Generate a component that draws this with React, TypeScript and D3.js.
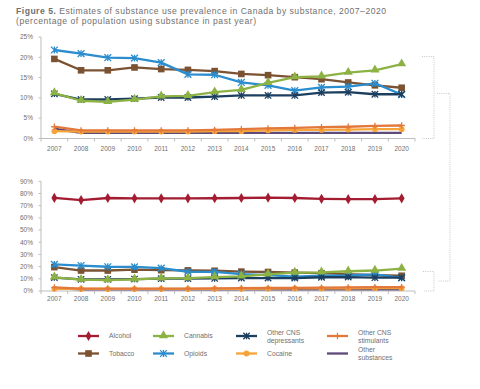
import React from "react";
import * as d3 from "d3";

const years = [2007, 2008, 2009, 2010, 2011, 2012, 2013, 2014, 2015, 2016, 2017, 2018, 2019, 2020];
const alcohol = [76.4, 74.6, 76.3, 76.0, 76.0, 76.0, 76.1, 76.3, 76.6, 76.3, 75.6, 75.3, 75.3, 76.0];
const tobacco = [19.6, 16.8, 16.8, 17.5, 17.1, 16.9, 16.6, 15.9, 15.6, 15.1, 14.6, 13.8, 13.1, 12.5];
const cannabis = [11.2, 9.3, 9.0, 9.6, 10.4, 10.5, 11.4, 12.0, 13.7, 15.1, 15.3, 16.2, 16.8, 18.3];
const opioids = [21.8, 20.9, 19.9, 19.8, 18.7, 15.8, 15.7, 13.8, 13.1, 11.8, 12.6, 12.8, 13.6, 10.8];
const cnsDepressants = [11.0, 9.6, 9.6, 9.8, 10.1, 10.1, 10.3, 10.6, 10.6, 10.6, 11.3, 11.4, 10.9, 10.9];
const cnsStimulants = [2.9, 2.0, 2.0, 2.0, 2.0, 2.0, 2.1, 2.3, 2.5, 2.6, 2.8, 2.9, 3.1, 3.2];
const cocaine = [1.8, 1.7, 1.7, 1.7, 1.7, 1.7, 1.8, 1.8, 2.0, 2.1, 2.1, 2.2, 2.3, 2.3];
const otherSubstances = [2.4, 1.4, 1.4, 1.4, 1.4, 1.4, 1.4, 1.4, 1.4, 1.4, 1.4, 1.4, 1.4, 1.4];

const topTicks = [0, 5, 10, 15, 20, 25];
const bottomTicks = [0, 10, 20, 30, 40, 50, 60, 70, 80, 90];

type Marker = "diamond" | "square" | "triangle" | "star" | "xbar" | "plus" | "circle" | "none";
type Series = { name: string[]; values: number[]; color: string; marker: Marker };

const series: Record<string, Series> = {
  alcohol: { name: ["Alcohol"], values: alcohol, color: "#a31c31", marker: "diamond" },
  tobacco: { name: ["Tobacco"], values: tobacco, color: "#7b5232", marker: "square" },
  cannabis: { name: ["Cannabis"], values: cannabis, color: "#8db244", marker: "triangle" },
  opioids: { name: ["Opioids"], values: opioids, color: "#2b8dcd", marker: "star" },
  dep: { name: ["Other CNS", "depressants"], values: cnsDepressants, color: "#1d3f5f", marker: "xbar" },
  stim: { name: ["Other CNS", "stimulants"], values: cnsStimulants, color: "#e2783b", marker: "plus" },
  cocaine: { name: ["Cocaine"], values: cocaine, color: "#f6a43a", marker: "circle" },
  other: { name: ["Other", "substances"], values: otherSubstances, color: "#5d4b79", marker: "none" },
};

const drawOrder = ["other", "cocaine", "stim", "tobacco", "opioids", "dep", "cannabis"];
const legendOrder = [
  ["alcohol", "tobacco"],
  ["cannabis", "opioids"],
  ["dep", "cocaine"],
  ["stim", "other"],
];

const FONT = "'Liberation Sans', Arial, Helvetica, sans-serif";
const TEXT = "#707070";
const AXIS = "#bdbdbd";

function MarkerShape({ type, x, y, color, s = 1 }: { type: Marker; x: number; y: number; color: string; s?: number }) {
  switch (type) {
    case "diamond":
      return <path d={d3.symbol(d3.symbolDiamond, 30 * s)()!} transform={`translate(${x},${y})`} fill={color} />;
    case "square":
      return <rect x={x - 3.3 * s} y={y - 3.3 * s} width={6.6 * s} height={6.6 * s} fill={color} />;
    case "triangle":
      return <path d={d3.symbol(d3.symbolTriangle, 36 * s)()!} transform={`translate(${x},${y - 0.5})`} fill={color} />;
    case "star":
    case "xbar": {
      const r = (type === "star" ? 3.4 : 3.2) * s;
      return (
        <path
          d={`M${x - r},${y - r}L${x + r},${y + r}M${x - r},${y + r}L${x + r},${y - r}M${x},${y - r}L${x},${y + r}`}
          stroke={color}
          strokeWidth={1.3}
          fill="none"
        />
      );
    }
    case "plus": {
      const r = 3.2 * s;
      return <path d={`M${x},${y - r}L${x},${y + r}M${x - r},${y}L${x + r},${y}`} stroke={color} strokeWidth={1.3} fill="none" />;
    }
    case "circle":
      return <circle cx={x} cy={y} r={2.9 * s} fill={color} />;
    default:
      return null;
  }
}

function Panel({
  yDomainMax,
  yTop,
  yBottom,
  ticks,
  keys,
  labelY,
}: {
  yDomainMax: number;
  yTop: number;
  yBottom: number;
  ticks: number[];
  keys: string[];
  labelY: number;
}) {
  const x = d3.scaleBand<number>().domain(years).range([41, 415]).padding(0);
  const cx = (yr: number) => (x(yr) as number) + x.bandwidth() / 2;
  const y = d3.scaleLinear().domain([0, yDomainMax]).range([yBottom, yTop]);
  const line = d3
    .line<number>()
    .x((_, i) => cx(years[i]))
    .y((v) => y(v));
  const boundaries = years.map((yr) => x(yr) as number).concat([415]);
  return (
    <g>
      <line x1={41} x2={41} y1={y(yDomainMax)} y2={y(0)} stroke={AXIS} strokeWidth={1} />
      {ticks.map((t) => (
        <g key={t}>
          <line x1={38.5} x2={41} y1={y(t)} y2={y(t)} stroke={AXIS} strokeWidth={1} />
          <text x={33} y={y(t)} dy="0.35em" textAnchor="end" fontSize={6.5} fill={TEXT} fontFamily={FONT}>
            {t}%
          </text>
        </g>
      ))}
      <line x1={41} x2={415} y1={y(0)} y2={y(0)} stroke={AXIS} strokeWidth={1} />
      {boundaries.map((b, i) => (
        <line key={i} x1={b} x2={b} y1={y(0)} y2={y(0) + 3} stroke={AXIS} strokeWidth={1} />
      ))}
      {years.map((yr) => (
        <text key={yr} x={cx(yr)} y={labelY} textAnchor="middle" fontSize={6.5} fill={TEXT} fontFamily={FONT}>
          {yr}
        </text>
      ))}
      {keys.map((k) => {
        const s = series[k];
        return (
          <g key={k}>
            <path d={line(s.values)!} fill="none" stroke={s.color} strokeWidth={2.3} strokeLinejoin="round" />
            {s.values.map((v, i) => (
              <MarkerShape key={i} type={s.marker} x={cx(years[i])} y={y(v)} color={s.color} />
            ))}
          </g>
        );
      })}
    </g>
  );
}

export default function App() {
  const legendX = [78, 153, 236, 327];
  const legendRowY = [336, 353.5];
  return (
    <svg width={480} height={389} style={{ position: "absolute", left: 0, top: 0, background: "#fff" }}>
      <rect width={480} height={389} fill="#fff" />
      <text x={16} y={14} fontSize={8.6} fill={TEXT} fontFamily={FONT} textLength={370} lengthAdjust="spacing">
        <tspan fontWeight="bold">Figure 5.</tspan>
        <tspan> Estimates of substance use prevalence in Canada by substance, 2007–2020</tspan>
      </text>
      <text x={16} y={24} fontSize={8.6} fill={TEXT} fontFamily={FONT} textLength={240} lengthAdjust="spacing">
        (percentage of population using substance in past year)
      </text>

      <Panel yDomainMax={25} yTop={37} yBottom={138.5} ticks={topTicks} keys={drawOrder} labelY={151} />
      <Panel
        yDomainMax={90}
        yTop={181.3}
        yBottom={291}
        ticks={bottomTicks}
        keys={[...drawOrder, "alcohol"]}
        labelY={300.5}
      />

      <g stroke="#c8c8c8" strokeWidth={1} strokeDasharray="1,1.2" fill="none">
        <path d="M422,56.5H434V138.5H422" />
        <path d="M437,93.5H450V281H438" />
        <path d="M423,271.5H434V291H423" />
      </g>

      {legendOrder.map((col, ci) =>
        col.map((k, ri) => {
          const s = series[k];
          const lx = legendX[ci];
          const ly = legendRowY[ri];
          const multi = s.name.length > 1;
          return (
            <g key={k}>
              <line x1={lx} x2={lx + 21} y1={ly} y2={ly} stroke={s.color} strokeWidth={2.3} />
              <MarkerShape type={s.marker} x={lx + 10.5} y={ly} color={s.color} />
              {s.name.map((n, i) => (
                <text
                  key={i}
                  x={lx + 31}
                  y={multi ? ly - 3.8 + i * 8.2 : ly}
                  dy="0.35em"
                  fontSize={6.8}
                  fill={TEXT}
                  fontFamily={FONT}
                >
                  {n}
                </text>
              ))}
            </g>
          );
        })
      )}
    </svg>
  );
}
